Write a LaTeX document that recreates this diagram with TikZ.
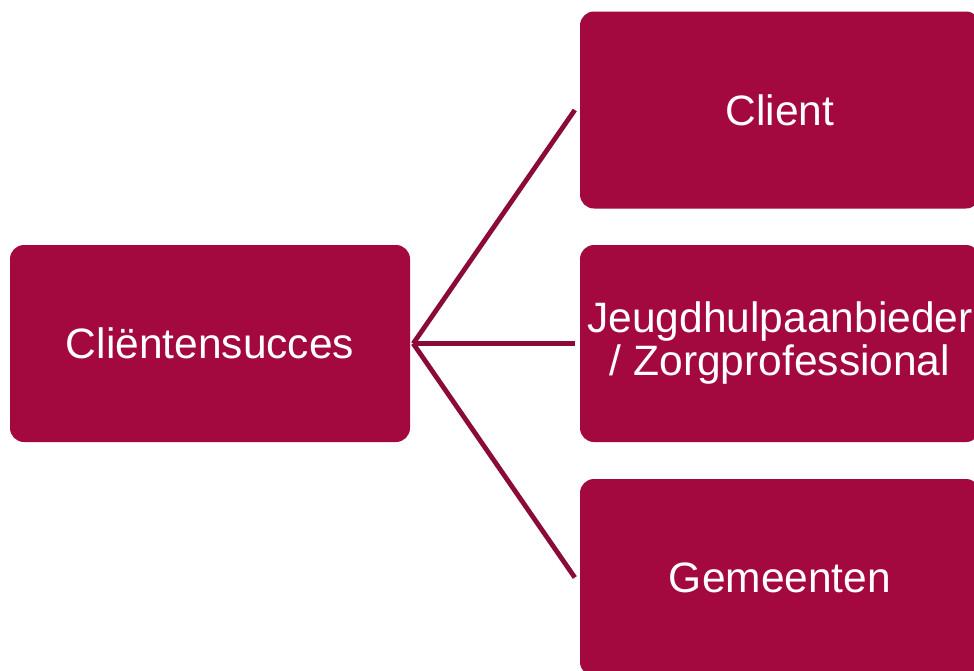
\documentclass[tikz,border=0pt]{standalone}
\usepackage{fontspec}
\setmainfont{Liberation Sans}
\definecolor{wijn}{HTML}{A3083F}
\definecolor{wijnlijn}{HTML}{8A0B37}
\tikzset{
	blok/.style={draw=none, fill=wijn, rounded corners=14pt, text=white, align=center,
		minimum width=400pt, minimum height=197pt, inner sep=0pt,
		font=\fontsize{42.5}{43}\selectfont},
	lijn/.style={wijnlijn, line width=4.8pt}
}
\begin{document}
\begin{tikzpicture}[x=1pt, y=-1pt]
	\useasboundingbox (0,0) rectangle (974,670);
	\clip (0,0) rectangle (974,670);
	
	%%% Blokken
	\node[blok] (succes) at (210,343.5) {Cliëntensucces};
	\node[blok] (client) at (780,110) {Client};
	\node[blok] (jeugd) at (780,343.5) {Jeugdhulpaanbieder\\/ Zorgprofessional};
	\node[blok] (gemeente) at (780,577.5) {Gemeenten};
	
	%%% Lijnen
	\draw[lijn] ([xshift=3pt]succes.east) -- ([xshift=-5pt]client.west);
	\draw[lijn] ([xshift=3pt]succes.east) -- ([xshift=-5pt]jeugd.west);
	\draw[lijn] ([xshift=3pt]succes.east) -- ([xshift=-5pt]gemeente.west);
\end{tikzpicture}
\end{document}
